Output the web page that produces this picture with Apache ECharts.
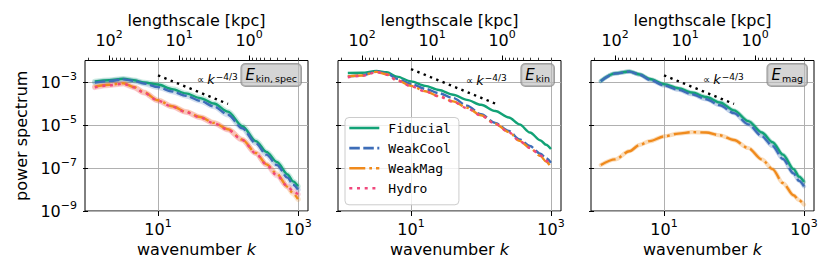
<!DOCTYPE html>
<html><head><meta charset="utf-8">
<script src="https://cdn.jsdelivr.net/npm/echarts@6/dist/echarts.min.js"></script>
<style>html,body{margin:0;padding:0;background:#fff}#c{width:830px;height:275px}</style>
</head><body><div id="c"></div>
<script>
// ---------- data ----------
const wavenumbers = [1.25, 2, 3.2, 4.5, 6.3, 10, 16, 25, 40, 63, 100, 160, 250, 355, 500, 710, 850, 1000];
const runNames = ['Fiducial', 'WeakCool', 'WeakMag', 'Hydro'];

// E_kin,spec
const kinSpecFiducial = [1.05e-3, 1.20e-3, 1.41e-3, 1.20e-3, 9.55e-4, 7.59e-4, 4.68e-4, 2.95e-4, 1.78e-4, 1.00e-4, 4.17e-5, 8.91e-6, 1.78e-6, 5.62e-7, 1.91e-7, 5.01e-8, 2.40e-8, 1.41e-8];
const kinSpecWeakCool = [9.33e-4, 1.10e-3, 1.32e-3, 1.12e-3, 8.51e-4, 5.75e-4, 3.63e-4, 2.29e-4, 1.35e-4, 7.24e-5, 3.02e-5, 7.08e-6, 1.41e-6, 4.17e-7, 1.38e-7, 3.55e-8, 1.66e-8, 1.00e-8];
const kinSpecWeakMag  = [6.03e-4, 7.41e-4, 8.71e-4, 5.89e-4, 3.31e-4, 1.41e-4, 7.41e-5, 4.17e-5, 2.34e-5, 1.26e-5, 6.31e-6, 2.09e-6, 5.01e-7, 1.48e-7, 5.25e-8, 1.32e-8, 6.61e-9, 3.55e-9];
const kinSpecHydro    = [5.62e-4, 7.08e-4, 8.32e-4, 5.62e-4, 3.16e-4, 1.35e-4, 7.08e-5, 3.98e-5, 2.24e-5, 1.20e-5, 6.03e-6, 2.00e-6, 4.79e-7, 1.41e-7, 4.47e-8, 1.41e-8, 8.32e-9, 6.03e-9];

// E_kin
const kinFiducial = [2.63e-3, 2.69e-3, 3.24e-3, 2.82e-3, 1.78e-3, 1.07e-3, 6.61e-4, 4.27e-4, 2.57e-4, 1.48e-4, 8.71e-5, 4.47e-5, 2.24e-5, 1.07e-5, 4.47e-6, 1.91e-6, 1.20e-6, 7.59e-7];
const kinWeakCool = [1.82e-3, 2.04e-3, 3.09e-3, 2.51e-3, 1.41e-3, 8.13e-4, 4.79e-4, 3.02e-4, 1.78e-4, 7.94e-5, 3.16e-5, 1.26e-5, 5.25e-6, 2.14e-6, 1.05e-6, 4.57e-7, 2.82e-7, 1.74e-7];
const kinWeakMag  = [1.82e-3, 2.00e-3, 2.95e-3, 2.29e-3, 1.23e-3, 6.61e-4, 3.72e-4, 2.19e-4, 1.26e-4, 6.31e-5, 2.82e-5, 1.15e-5, 4.68e-6, 1.82e-6, 8.51e-7, 3.55e-7, 2.00e-7, 1.07e-7];
const kinHydro    = [1.66e-3, 1.91e-3, 2.88e-3, 2.19e-3, 1.17e-3, 6.31e-4, 3.63e-4, 2.14e-4, 1.20e-4, 6.03e-5, 2.75e-5, 1.12e-5, 4.57e-6, 1.78e-6, 8.71e-7, 3.80e-7, 2.24e-7, 1.26e-7];

// E_mag
const magFiducial = [1.12e-3, 2.51e-3, 3.09e-3, 2.24e-3, 1.38e-3, 7.94e-4, 5.13e-4, 3.24e-4, 2.00e-4, 1.12e-4, 4.79e-5, 1.51e-5, 4.47e-6, 1.58e-6, 4.17e-7, 8.91e-8, 3.98e-8, 2.24e-8];
const magWeakCool = [1.10e-3, 2.48e-3, 3.05e-3, 2.19e-3, 1.26e-3, 6.92e-4, 4.37e-4, 2.69e-4, 1.58e-4, 8.32e-5, 3.55e-5, 1.07e-5, 3.02e-6, 1.05e-6, 2.63e-7, 5.62e-8, 2.51e-8, 1.41e-8];
const magWeakMag  = [1.38e-7, 2.51e-7, 6.03e-7, 1.20e-6, 1.78e-6, 2.95e-6, 3.98e-6, 4.68e-6, 4.47e-6, 3.31e-6, 2.00e-6, 8.51e-7, 2.51e-7, 8.91e-8, 2.00e-8, 5.37e-9, 3.16e-9, 2.00e-9];

// k^-4/3 guide lines (end points)
const guideKinSpecK = [10, 100], guideKinSpecP = [2.04e-3, 9.5e-5];
const guideKinK = [10, 178],     guideKinP = [3.98e-3, 8.6e-5];
const guideMagK = [10, 100],     guideMagP = [2.04e-3, 9.5e-5];

// axes
const wavenumberRange = [0.905, 1390];
const powerRange = [1e-9, 1e-2];
const wavenumberTicks = [10, 1000];
const powerTicks = [1e-9, 1e-7, 1e-5, 1e-3];
const boxSizeKpc = 200;
const lengthMajorTicks = [100, 10, 1];
const lengthMinorTicks = [200, 90, 80, 70, 60, 50, 40, 30, 20, 9, 8, 7, 6, 5, 4, 3, 2, 0.9, 0.8, 0.7, 0.6, 0.5, 0.4, 0.3, 0.2];

// ---------- styling ----------
const FONT = 'DejaVu Sans';
const runStyles = {
  Fiducial: {color: '#12a276', type: 'solid'},
  WeakCool: {color: '#3d6db8', type: [10.5, 3.5]},
  WeakMag:  {color: '#f08a1c', type: [16, 4, 2.7, 4]},
  Hydro:    {color: '#f0487c', type: [3, 4.7]}
};
const panels = [
  {sub: 'kin,\u2009spec', runs: [kinSpecFiducial, kinSpecWeakCool, kinSpecWeakMag, kinSpecHydro], gk: guideKinSpecK, gp: guideKinSpecP, band: {w: 5.5, o: 0.22}, tk: 36, tp: 1.24e-3},
  {sub: 'kin', runs: [kinFiducial, kinWeakCool, kinWeakMag, kinHydro], gk: guideKinK, gp: guideKinP, band: null, tk: 61, tp: 1.15e-3},
  {sub: 'mag', runs: [magFiducial, magWeakCool, magWeakMag], gk: guideMagK, gp: guideMagP, band: {w: 4.2, o: 0.3}, tk: 36, tp: 1.29e-3}
];
const lg = Math.log10;
const xMin = lg(wavenumberRange[0]), xMax = lg(wavenumberRange[1]);
const yMin = lg(powerRange[0]), yMax = lg(powerRange[1]);
const gridLeft = [85, 338, 591];
const supStr = n => (n < 0 ? '\u2212' + (-n) : '' + n);
const tickRich = {
  b: {fontSize: 16, fontFamily: FONT, color: '#000'},
  s: {fontSize: 11, fontFamily: FONT, color: '#000', padding: [0, 0, 11, 0]}
};

const grids = [], xAxes = [], yAxes = [], series = [];
panels.forEach((p, i) => {
  grids.push({left: gridLeft[i], top: 60.5, width: 223, height: 150.5, show: true, borderColor: '#000', borderWidth: 1, backgroundColor: 'transparent', containLabel: false, outerBoundsMode: 'none'});
  xAxes.push({
    type: 'value', gridIndex: i, position: 'bottom', min: xMin, max: xMax,
    axisLine: {show: false},
    axisTick: {show: true, customValues: wavenumberTicks.map(lg), length: 5, lineStyle: {color: '#000', width: 1}},
    axisLabel: {show: true, customValues: wavenumberTicks.map(lg), margin: 7, formatter: v => '{b|10}{s|' + supStr(Math.round(v)) + '}', rich: tickRich},
    splitLine: {show: true, lineStyle: {color: '#b0b0b0', width: 1}},
    name: '{n|wavenumber }{i|k}', nameLocation: 'middle', nameGap: 30, nameMoveOverlap: false,
    nameTextStyle: {rich: {n: {fontSize: 16, fontFamily: FONT, color: '#000'}, i: {fontSize: 16, fontFamily: FONT, fontStyle: 'italic', color: '#000'}}}
  });
  xAxes.push({
    type: 'value', gridIndex: i, position: 'top', min: xMin, max: xMax,
    axisLine: {show: false},
    axisTick: {show: true, customValues: lengthMajorTicks.map(l => lg(boxSizeKpc / l)), length: 5, lineStyle: {color: '#000', width: 1}},
    axisLabel: {show: true, customValues: lengthMajorTicks.map(l => lg(boxSizeKpc / l)), margin: 9.5,
      formatter: v => '{b|10}{s|' + supStr(Math.round(lg(boxSizeKpc) - v)) + '}', rich: tickRich},
    splitLine: {show: false},
    name: 'lengthscale [kpc]', nameLocation: 'middle', nameGap: 32.5, nameMoveOverlap: false,
    nameTextStyle: {fontSize: 16, fontFamily: FONT, color: '#000'}
  });
  xAxes.push({
    type: 'value', gridIndex: i, position: 'top', min: xMin, max: xMax,
    axisLine: {show: false},
    axisTick: {show: true, customValues: lengthMinorTicks.map(l => lg(boxSizeKpc / l)), length: 2.8, lineStyle: {color: '#000', width: 0.8}},
    axisLabel: {show: false}, splitLine: {show: false}
  });
  yAxes.push({
    type: 'value', gridIndex: i, position: 'left', min: yMin, max: yMax,
    axisLine: {show: false},
    axisTick: {show: true, customValues: powerTicks.map(lg), length: 5, lineStyle: {color: '#000', width: 1}},
    axisLabel: {show: i === 0, customValues: powerTicks.map(lg), margin: 8, formatter: v => '{b|10}{s|' + supStr(Math.round(v)) + '}', rich: tickRich},
    splitLine: {show: true, lineStyle: {color: '#b0b0b0', width: 1}},
    name: i === 0 ? 'power spectrum' : '', nameLocation: 'middle', nameGap: 56, nameMoveOverlap: false,
    nameTextStyle: {fontSize: 16, fontFamily: FONT, color: '#000'}
  });
  const xi = i * 3;
  if (p.band) {
    p.runs.forEach((vals, r) => {
      const st = runStyles[runNames[r]];
      series.push({
        type: 'line', name: runNames[r] + ' band', xAxisIndex: xi, yAxisIndex: i, symbol: 'none', smooth: 0.3, smoothMonotone: 'x',
        data: wavenumbers.map((k, j) => [lg(k), lg(vals[j])]), silent: true, z: 1,
        lineStyle: {color: st.color, width: p.band.w, opacity: p.band.o, cap: 'round', join: 'round'}
      });
    });
  }
  p.runs.forEach((vals, r) => {
    const st = runStyles[runNames[r]];
    series.push({
      type: 'line', name: runNames[r], xAxisIndex: xi, yAxisIndex: i, symbol: 'none', showSymbol: false, smooth: 0.3, smoothMonotone: 'x',
      data: wavenumbers.map((k, j) => [lg(k), lg(vals[j])]), z: 3 + r, color: st.color,
      lineStyle: {color: st.color, width: 2.4, type: st.type}
    });
  });
  series.push({
    type: 'line', name: 'k^-4/3', xAxisIndex: xi, yAxisIndex: i, symbol: 'none', silent: true, z: 8,
    data: p.gk.map((k, j) => [lg(k), lg(p.gp[j])]),
    lineStyle: {color: '#000', width: 2.4, type: [2.4, 4.4]}
  });
});

const option = {
  animation: false,
  backgroundColor: '#fff',
  grid: grids, xAxis: xAxes, yAxis: yAxes, series: series,
  legend: {
    data: runNames, orient: 'vertical', align: 'left', left: 345, top: 117.5,
    padding: [4, 8, 10, 3], itemWidth: 30, itemHeight: 14, itemGap: 7.1,
    backgroundColor: 'rgba(255,255,255,0.8)', borderColor: '#cccccc', borderWidth: 1, borderRadius: 4,
    itemStyle: {opacity: 0, borderWidth: 0},
    lineStyle: {width: 2.6},
    textStyle: {fontFamily: 'DejaVu Sans Mono', fontSize: 13, color: '#000', padding: [0, 0, 0, 4]},
    selectedMode: false
  }
};
const chart = echarts.init(document.getElementById('c'), null, {renderer: 'svg'});
chart.setOption(option);

const graphics = [];
panels.forEach((p, i) => {
  const tr = chart.convertToPixel({xAxisIndex: i * 3, yAxisIndex: i}, [xMax, yMax]);
  graphics.push({
    type: 'text', x: tr[0] - 7, y: tr[1] + 3.5, z: 20,
    style: {
      text: '{e|E}{s|' + p.sub + '}', align: 'right', verticalAlign: 'top',
      backgroundColor: 'rgba(190,190,190,0.65)', borderColor: 'rgba(120,120,120,0.7)', borderWidth: 1, borderRadius: 4,
      padding: [3, 4, 3, 4],
      rich: {
        e: {fontSize: 15, fontFamily: FONT, fontStyle: 'italic', fill: '#000'},
        s: {fontSize: 9.5, fontFamily: FONT, fill: '#000', padding: [6, 0, 0, 1]}
      }
    }
  });
  const tp = chart.convertToPixel({xAxisIndex: i * 3, yAxisIndex: i}, [lg(p.tk), lg(p.tp)]);
  graphics.push({
    type: 'text', x: tp[0], y: tp[1], z: 20,
    style: {
      text: '{p|\u221d }{k|k}{s|\u22124/3}', align: 'left', verticalAlign: 'middle',
      rich: {
        p: {fontSize: 10, fontFamily: FONT, fill: '#000'},
        k: {fontSize: 13, fontFamily: FONT, fontStyle: 'italic', fill: '#000'},
        s: {fontSize: 9, fontFamily: FONT, fill: '#000', padding: [0, 0, 6, 1]}
      }
    }
  });
});
chart.setOption({graphic: graphics});
</script></body></html>
